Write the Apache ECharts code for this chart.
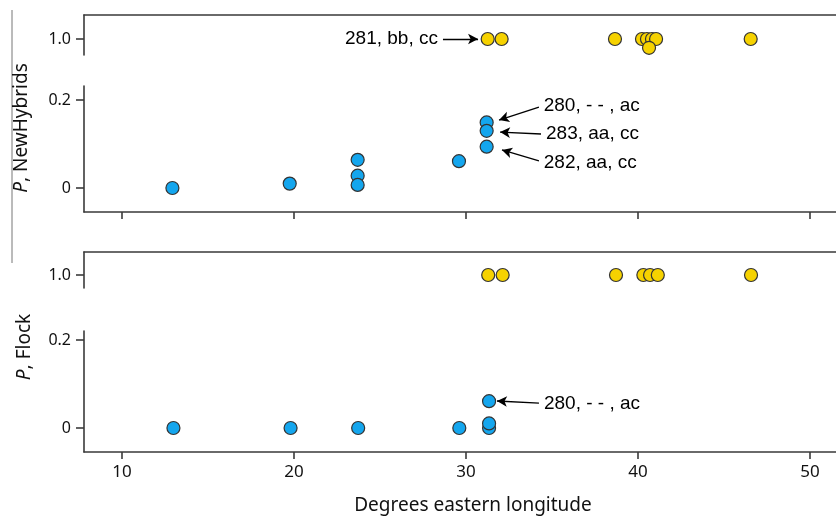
<!DOCTYPE html>
<html>
<head>
<meta charset="utf-8">
<script src="https://cdn.jsdelivr.net/npm/echarts@6/dist/echarts.min.js"></script>
<style>html,body{margin:0;padding:0;background:#fff}#c{width:836px;height:516px}</style>
</head>
<body>
<div id="c"></div>
<script>
// ---- data ----
const xTicks = [10, 20, 30, 40, 50];
const nhYellow = [[31.26,1],[32.07,1],[38.66,1],[40.23,1],[40.52,1],[40.81,1],[41.05,1],[40.64,0.98],[46.55,1]];
const nhBlue = [[12.93,0.0],[19.75,0.01],[23.70,0.064],[23.70,0.028],[23.70,0.007],[29.59,0.061],[31.20,0.149],[31.20,0.130],[31.20,0.094]];
const flYellow = [[31.29,1],[32.13,1],[38.72,1],[40.31,1],[40.70,1],[41.15,1],[46.57,1]];
const flBlue = [[12.99,0],[19.80,0],[23.73,0],[29.61,0],[31.34,0],[31.34,0.0105],[31.34,0.061]];
// annotations: [label, [x1,y1] text end, [x2,y2] arrow tip]
const nhTopNotes = [["281, bb, cc",[28.66,1.0],[30.70,1.0]]];
const nhLowNotes = [
  ["280, - - , ac",[34.24,0.184],[31.92,0.1545]],
  ["283, aa, cc",[34.36,0.1227],[31.98,0.127]],
  ["282, aa, cc",[34.24,0.0614],[32.09,0.0864]]
];
const flLowNotes = [["280, - - , ac",[34.24,0.0568],[31.80,0.0614]]];

const BLUE = '#14a6ee', YELLOW = '#f6d200', EDGE = '#333';
const AX = '#3a3a3a';
const FONT = 'Noto Sans';

const xMin = 7.79, xMax = 51.51;

function xAxisDef(gi, pos, showTicks, showLabels, name) {
  return {
    type: 'value', gridIndex: gi, position: pos, min: xMin, max: xMax,
    axisLine: {show: true, onZero: false, lineStyle: {color: AX, width: 1.6}},
    axisTick: {show: showTicks, customValues: xTicks, length: 7, inside: false, lineStyle: {color: AX, width: 1.6}},
    axisLabel: {show: showLabels, customValues: xTicks, margin: 12, color: '#111', fontSize: 17, fontFamily: FONT},
    splitLine: {show: false},
    name: name || '', nameLocation: 'middle', nameGap: 44,
    nameTextStyle: {color: '#111', fontSize: 19, fontFamily: FONT, padding: [0,0,0,26]}
  };
}
function yAxisDef(gi, min, max, ticks, fmt) {
  return {
    type: 'value', gridIndex: gi, min: min, max: max,
    axisLine: {show: true, onZero: false, lineStyle: {color: AX, width: 1.6}},
    axisTick: {show: true, customValues: ticks, length: 8, lineStyle: {color: AX, width: 1.6}},
    axisLabel: {show: true, customValues: ticks, margin: 13, color: '#111', fontSize: 16, fontFamily: FONT, formatter: fmt},
    splitLine: {show: false}
  };
}
function notes(list) {
  return {
    silent: true, animation: false,
    symbol: ['none', 'arrow'], symbolSize: [8, 10],
    lineStyle: {color: '#000', width: 1.3, type: 'solid'},
    label: {show: true, position: 'start', distance: 5, formatter: '{b}', color: '#000',
            fontSize: 19, fontFamily: 'Liberation Sans', fontWeight: 'normal'},
    emphasis: {disabled: true},
    data: list.map(n => [{name: n[0], coord: n[1]}, {coord: n[2]}])
  };
}
function sc(xi, data, color, mk) {
  const s = {
    type: 'scatter', xAxisIndex: xi, yAxisIndex: xi, data: data, symbolSize: 13,
    itemStyle: {color: color, borderColor: EDGE, borderWidth: 1.2, opacity: 1},
    silent: true, animation: false, z: 3
  };
  if (mk) s.markLine = mk;
  return s;
}

const chart = echarts.init(document.getElementById('c'), null, {renderer: 'canvas'});
chart.setOption({
  backgroundColor: '#fff',
  animation: false,
  grid: [
    {left: 84, right: 0, top: 15, height: 40},
    {left: 84, right: 0, top: 86, height: 126},
    {left: 84, right: 0, top: 252, height: 36},
    {left: 84, right: 0, top: 331, height: 121}
  ],
  xAxis: [
    xAxisDef(0, 'top', false, false),
    xAxisDef(1, 'bottom', true, false),
    xAxisDef(2, 'top', false, false),
    xAxisDef(3, 'bottom', true, true, 'Degrees eastern longitude')
  ],
  yAxis: [
    yAxisDef(0, 0.9636, 1.0545, [1], v => v.toFixed(1)),
    yAxisDef(1, -0.0545, 0.2318, [0, 0.2], v => v === 0 ? '0' : v.toFixed(1)),
    yAxisDef(2, 0.9705, 1.0523, [1], v => v.toFixed(1)),
    yAxisDef(3, -0.0545, 0.2205, [0, 0.2], v => v === 0 ? '0' : v.toFixed(1))
  ],
  series: [
    sc(0, nhYellow, YELLOW, notes(nhTopNotes)),
    sc(1, nhBlue, BLUE, notes(nhLowNotes)),
    sc(2, flYellow, YELLOW),
    sc(3, flBlue, BLUE, notes(flLowNotes))
  ],
  graphic: [
    {type: 'line', shape: {x1: 12, y1: 10, x2: 12, y2: 263}, style: {stroke: '#777', lineWidth: 1}, silent: true},
    {type: 'text', x: 22, y: 128, rotation: Math.PI / 2, silent: true,
     style: {text: '{i|P}, NewHybrids', align: 'center', verticalAlign: 'middle', fill: '#111',
             fontSize: 19, fontFamily: FONT,
             rich: {i: {fontStyle: 'italic', fontSize: 19, fontFamily: FONT, fill: '#111'}}}},
    {type: 'text', x: 25, y: 347, rotation: Math.PI / 2, silent: true,
     style: {text: '{i|P}, Flock', align: 'center', verticalAlign: 'middle', fill: '#111',
             fontSize: 19, fontFamily: FONT,
             rich: {i: {fontStyle: 'italic', fontSize: 19, fontFamily: FONT, fill: '#111'}}}}
  ]
});
</script>
</body>
</html>
